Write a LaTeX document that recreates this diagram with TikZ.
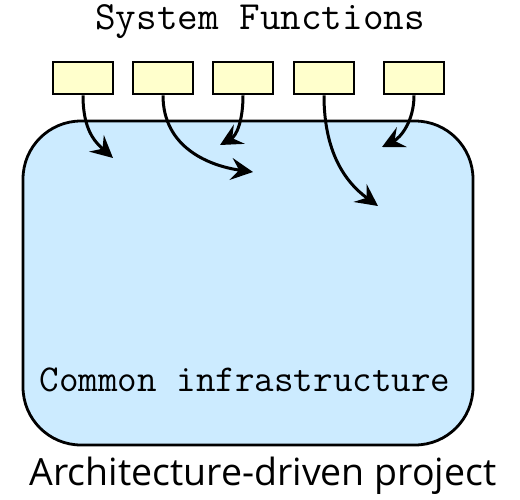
\documentclass[tikz,border=0pt]{standalone}
\usepackage{fontspec}
\newfontfamily\captionfont{Open Sans}
\usetikzlibrary{arrows.meta}
\definecolor{fnyellow}{RGB}{255,255,204}
\definecolor{infrablue}{RGB}{204,235,255}
\begin{document}
\begin{tikzpicture}[x=1pt,y=-1pt,
  fnbox/.style={draw, line width=2.8pt, fill=fnyellow, minimum width=60pt, minimum height=32pt, inner sep=0pt},
  infra/.style={draw, line width=2.8pt, fill=infrablue, rounded corners=58pt, minimum width=450pt, minimum height=324pt, inner sep=0pt},
  link/.style={line width=3pt, -{Stealth[length=22pt, width=22pt, inset=8pt]}},
  label/.style={font=\ttfamily\fontsize{38}{42}\selectfont, inner sep=0pt}]
\useasboundingbox (0,0) rectangle (520,499);

% common infrastructure block
\node[infra] (base) at (248,283) {};
\node[label] (baselabel) at (245,380) {Common infrastructure};

% system function boxes
\node[label, font=\ttfamily\fontsize{40}{44}\selectfont] (title) at (260,22) {System Functions};
\node[fnbox] (f1) at (83,78) {};
\node[fnbox] (f2) at (163,78) {};
\node[fnbox] (f3) at (243,78) {};
\node[fnbox] (f4) at (324,78) {};
\node[fnbox] (f5) at (414,78) {};

% arrow targets inside the block
\coordinate (t1) at (113,158);
\coordinate (t2) at (253,172);
\coordinate (t3) at (220,145);
\coordinate (t4) at (378,206);
\coordinate (t5) at (382,147);

\draw[link] (f1.south) .. controls (83,130) and (95,142) .. (t1);
\draw[link] (f2.south) .. controls (163,148) and (210,166) .. (t2);
\draw[link] (f3.south) .. controls (243,122) and (236,136) .. (t3);
\draw[link] (f4.south) .. controls (324,152) and (345,182) .. (t4);
\draw[link] (f5.south) .. controls (414,122) and (400,138) .. (t5);

\node[font=\captionfont\fontsize{37.5}{42}\selectfont, inner sep=0pt] (caption) at (263,476) {Architecture-driven project};
\end{tikzpicture}
\end{document}
